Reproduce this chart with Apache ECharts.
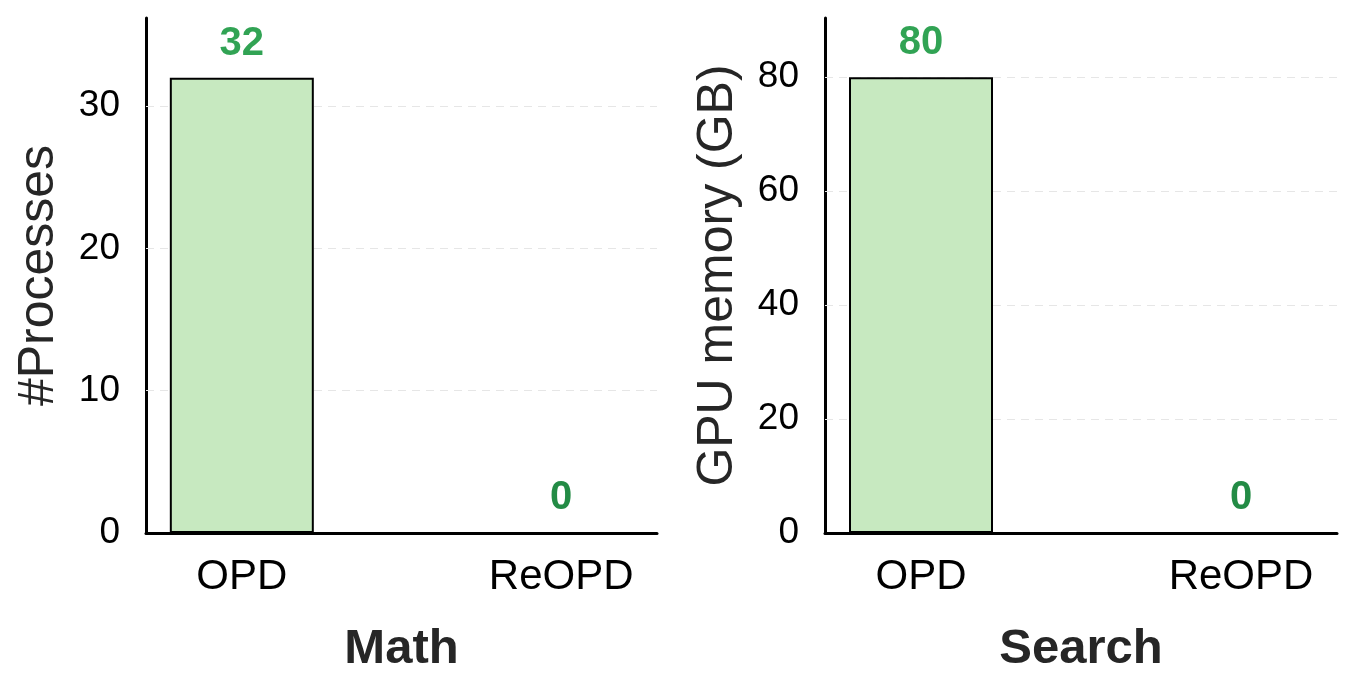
<!DOCTYPE html>
<html>
<head>
<meta charset="utf-8">
<script src="https://cdn.jsdelivr.net/npm/echarts@6/dist/echarts.min.js"></script>
<style>
  html, body { margin: 0; padding: 0; background: #fff; }
  #chart { width: 1357px; height: 694px; }
</style>
</head>
<body>
<div id="chart"></div>
<script>
// data
const categories = ['OPD', 'ReOPD'];
const mathProcesses = [32, 0];
const searchMemory = [80, 0];
const mathTicks = [0, 10, 20, 30];
const searchTicks = [0, 20, 40, 60, 80];

const chart = echarts.init(document.getElementById('chart'));
const FONT = 'Liberation Sans, Arial, sans-serif';

const grids = [
    { left: 146, top: 18, width: 511, height: 515 },
    { left: 825, top: 18, width: 512, height: 515 }
];

// x axis: value scale so bars sit at 0 and 1 with margin on both sides
const makeXAxis = (idx, name) => ({
    type: 'value',
    gridIndex: idx,
    min: -0.3,
    max: 1.3,
    name: name,
    nameLocation: 'middle',
    nameGap: 92,
    nameTextStyle: { fontFamily: FONT, fontSize: 49, fontWeight: 'bold', color: '#262626' },
    axisLine: { show: true, onZero: false, lineStyle: { color: '#000', width: 3 } },
    axisTick: { show: false },
    splitLine: { show: false },
    axisLabel: {
        customValues: categories.map((c, i) => i),
        formatter: (v) => categories[Math.round(v)] || '',
        fontFamily: FONT, fontSize: 42, color: '#000', margin: 23
    }
});

const makeYAxis = (idx, name, ticks, max) => ({
    type: 'value',
    gridIndex: idx,
    min: 0,
    max: max,
    name: name,
    nameLocation: 'middle',
    nameRotate: 90,
    nameGap: 82,
    nameTextStyle: { fontFamily: FONT, fontSize: 50, color: '#262626' },
    axisLine: { show: true, onZero: false, lineStyle: { color: '#000', width: 3 } },
    axisTick: { show: false },
    splitLine: { show: false },
    axisLabel: {
        customValues: ticks,
        fontFamily: FONT, fontSize: 37, color: '#000', margin: 26
    }
});

const makeSeries = (idx, values, ticks) => ({
    type: 'bar',
    xAxisIndex: idx,
    yAxisIndex: idx,
    barWidth: 144,
    data: values.map((v, i) => ({
        value: [i, v],
        label: { color: v > 0 ? '#31a354' : '#238b45' }
    })),
    itemStyle: { color: '#c7e9c0', borderColor: '#000', borderWidth: 2 },
    label: {
        show: true,
        position: 'top',
        distance: 14,
        formatter: (p) => p.value[1],
        fontFamily: FONT, fontSize: 40, fontWeight: 'bold'
    },
    // dashed grid lines behind the bars
    markLine: {
        z: 1,
        silent: true,
        symbol: 'none',
        label: { show: false },
        lineStyle: { color: '#e6e6e6', type: [8, 6], width: 1.2 },
        data: ticks.filter((t) => t > 0).map((t) => ({ yAxis: t }))
    }
});

const option = {
    backgroundColor: '#fff',
    animation: false,
    grid: grids,
    xAxis: [makeXAxis(0, 'Math'), makeXAxis(1, 'Search')],
    yAxis: [
        makeYAxis(0, '#Processes', mathTicks, 36.2),
        makeYAxis(1, 'GPU memory (GB)', searchTicks, 90.4)
    ],
    series: [
        makeSeries(0, mathProcesses, mathTicks),
        makeSeries(1, searchMemory, searchTicks)
    ]
};

chart.setOption(option);
window.addEventListener('resize', () => chart.resize());
</script>
</body>
</html>
